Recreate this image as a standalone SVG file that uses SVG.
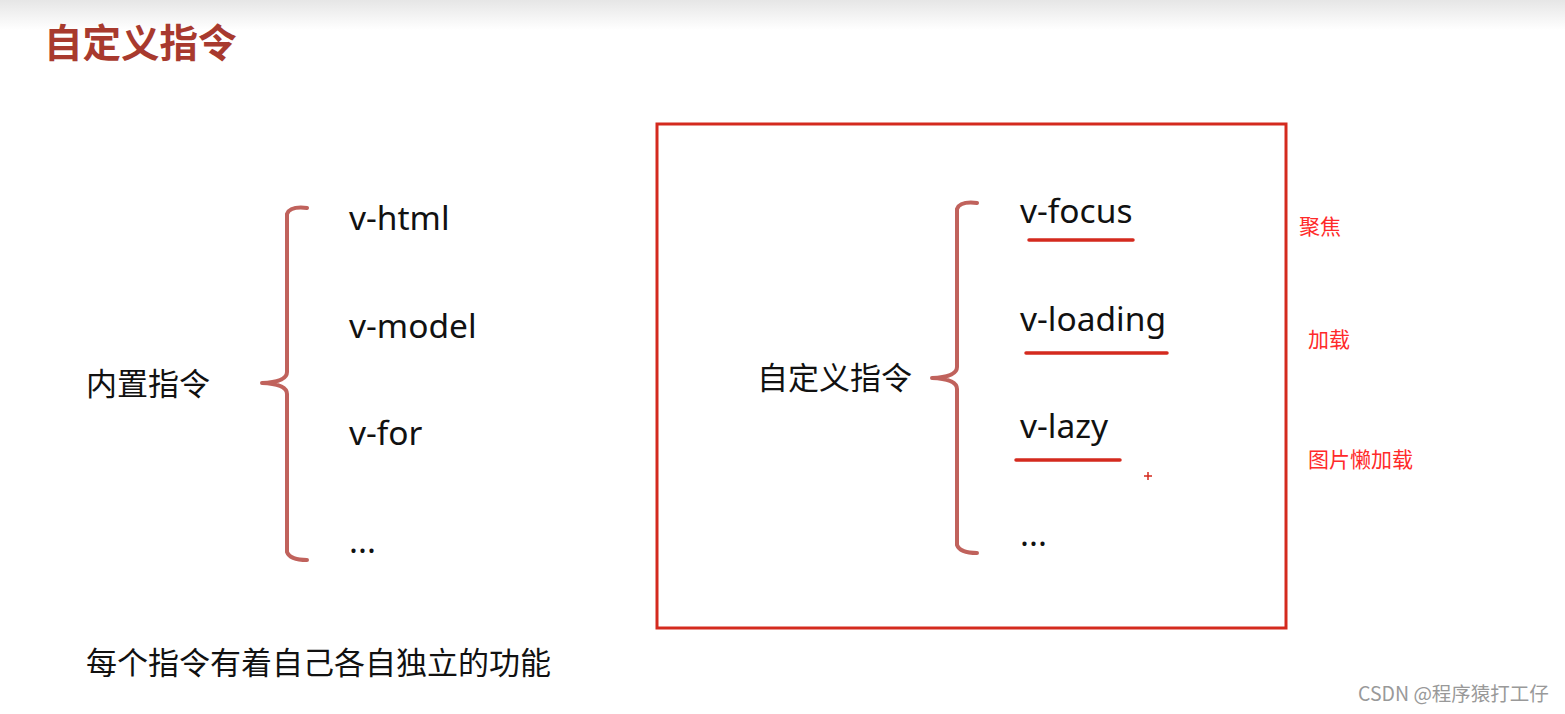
<svg xmlns="http://www.w3.org/2000/svg" width="1565" height="714" viewBox="0 0 1565 714">
<defs>
<linearGradient id="topband" x1="0" y1="0" x2="0" y2="1">
<stop offset="0" stop-color="#e6e6e6"/>
<stop offset="1" stop-color="#ffffff"/>
</linearGradient>
</defs>
<style>
.item{font-family:"Noto Sans","Open Sans","DejaVu Sans",sans-serif;font-size:33.5px;fill:#111}
.cn{font-family:"Noto Sans CJK SC",sans-serif;font-size:31px;fill:#111}
.note{font-family:"Noto Sans CJK SC",sans-serif;font-size:21px;fill:#ff2a2a}
.brace{fill:none;stroke:#c0625c;stroke-width:4;stroke-linecap:round;stroke-linejoin:round}
.ul{stroke:#d42a1e;stroke-width:3.5;stroke-linecap:round}
</style>
<rect x="0" y="0" width="1565" height="714" fill="#ffffff"/>
<rect x="0" y="0" width="1565" height="30" fill="url(#topband)"/>
<text x="44" y="57" font-family="Noto Sans CJK SC,sans-serif" font-size="38.5" font-weight="bold" fill="#a83a2e">自定义指令</text>

<g id="builtin">
<text class="cn" x="86" y="395">内置指令</text>
<path class="brace" d="M307,208 Q290,206 287,214 L287,372 Q287,382 262,383 Q287,384 287,394 L287,552 Q290,560 307,560"/>
<text class="item" x="349" y="230">v-html</text>
<text class="item" x="349" y="338">v-model</text>
<text class="item" x="349" y="445">v-for</text>
<text class="item" x="349" y="553">...</text>
</g>

<g id="custom">
<rect x="657" y="124" width="629" height="504" fill="none" stroke="#d42a1e" stroke-width="3"/>
<text class="cn" x="757" y="389">自定义指令</text>
<path class="brace" d="M977,203 Q960,201 957,209 L957,367 Q957,377 932,378 Q957,379 957,389 L957,545 Q960,553 977,553"/>
<text class="item" x="1020" y="223">v-focus</text>
<text class="item" x="1020" y="331">v-loading</text>
<text class="item" x="1020" y="438">v-lazy</text>
<text class="item" x="1020" y="546">...</text>
<line class="ul" x1="1029" y1="240" x2="1133" y2="240"/>
<line class="ul" x1="1026" y1="353" x2="1167" y2="353"/>
<line class="ul" x1="1016" y1="460" x2="1120" y2="460"/>
<path d="M1144,476 H1152 M1148,472 V480" stroke="#d42a1e" stroke-width="1.5"/>
</g>

<g id="notes">
<text class="note" x="1299" y="234">聚焦</text>
<text class="note" x="1308" y="347">加载</text>
<text class="note" x="1308" y="467">图片懒加载</text>
</g>

<text class="cn" x="86" y="674">每个指令有着自己各自独立的功能</text>
<text x="1358" y="701" font-family="Noto Sans CJK SC,sans-serif" font-size="19.5" fill="#999">CSDN @程序猿打工仔</text>
</svg>
